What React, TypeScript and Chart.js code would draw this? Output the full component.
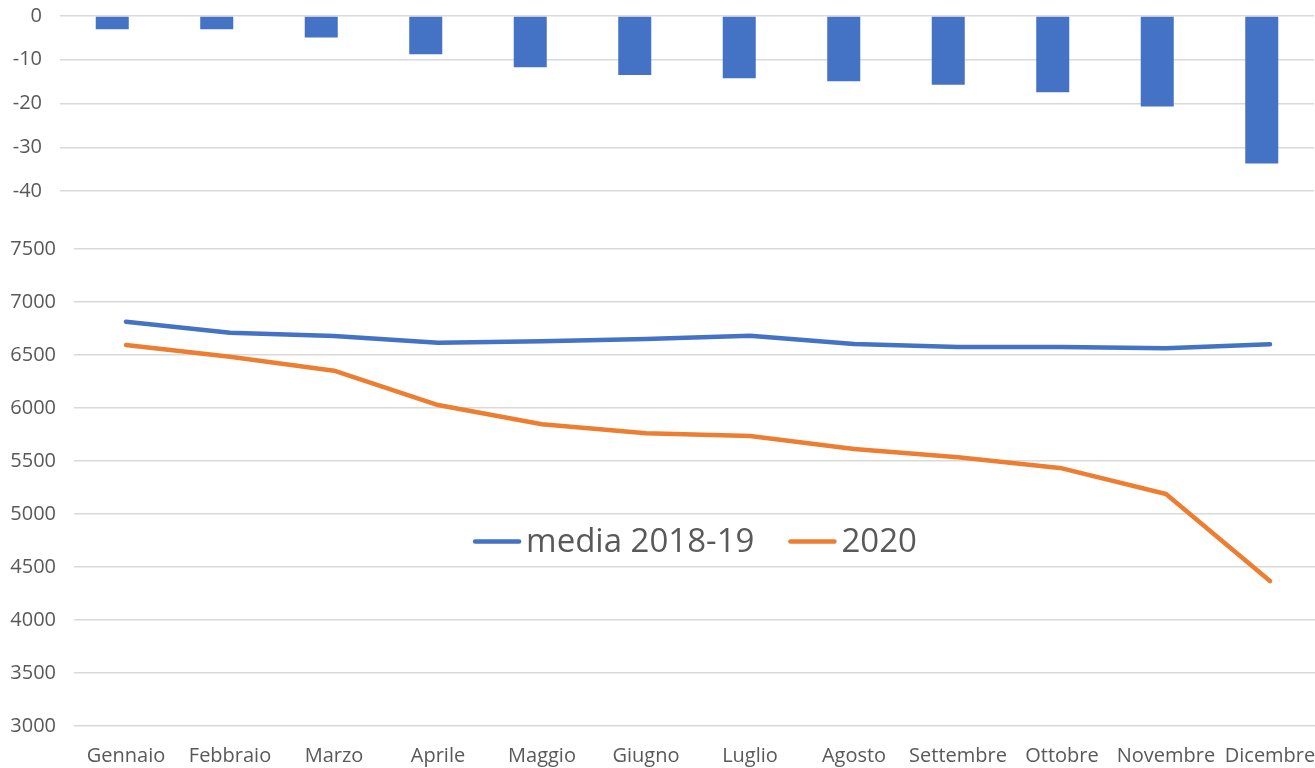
import React, { useEffect, useRef } from "react";
import { Chart, registerables } from "chart.js";

Chart.register(...registerables);

const months = ["Gennaio", "Febbraio", "Marzo", "Aprile", "Maggio", "Giugno", "Luglio", "Agosto", "Settembre", "Ottobre", "Novembre", "Dicembre"];
const variazione = [-3.0, -3.0, -4.9, -8.75, -11.7, -13.5, -14.2, -14.9, -15.7, -17.4, -20.7, -33.7];
const media201819 = [6814, 6710, 6679, 6616, 6629, 6651, 6682, 6604, 6575, 6575, 6563, 6601];
const values2020 = [6594, 6484, 6352, 6028, 5846, 5761, 5736, 5613, 5535, 5431, 5189, 4368];
const seriesNames = ["media 2018-19", "2020"];
const barAxisMin = -40;
const barAxisMax = 0;
const barAxisStep = 10;
const lineAxisMin = 3000;
const lineAxisMax = 7500;
const lineAxisStep = 500;

const BLUE = "#4472C4";
const ORANGE = "#ED7D31";
const GRID = "#d9d9d9";
const TEXT = "#595959";
const FONT = "'Open Sans', sans-serif";

const legendPlugin = {
  id: "innerLegend",
  afterDatasetsDraw(chart: any) {
    const ctx = chart.ctx;
    const area = chart.chartArea;
    const yScale = chart.scales.y;
    const y = yScale.getPixelForValue(4740);
    const fontSize = 33;
    ctx.save();
    ctx.font = `${fontSize}px ${FONT}`;
    const sample = 48;
    const gap = 5;
    const itemGap = 34;
    const widths = chart.data.datasets.map((d: any) => ctx.measureText(d.label).width);
    const total = widths.reduce((a: number, w: number) => a + sample + gap + w, 0) + itemGap * (widths.length - 1);
    let x = (area.left + area.right) / 2 - total / 2 - 3;
    chart.data.datasets.forEach((d: any, i: number) => {
      ctx.strokeStyle = d.borderColor;
      ctx.lineWidth = 4.5;
      ctx.lineCap = "round";
      ctx.beginPath();
      ctx.moveTo(x + 2, y);
      ctx.lineTo(x + sample - 2, y);
      ctx.stroke();
      ctx.fillStyle = TEXT;
      ctx.textBaseline = "middle";
      ctx.textAlign = "left";
      ctx.fillText(d.label, x + sample + gap, y + 1);
      x += sample + gap + widths[i] + itemGap;
    });
    ctx.restore();
  },
};

export default function App() {
  const topRef = useRef<HTMLCanvasElement>(null);
  const bottomRef = useRef<HTMLCanvasElement>(null);

  useEffect(() => {
    const tickFont = { family: FONT, size: 20 };
    const top = new Chart(topRef.current as HTMLCanvasElement, {
      type: "bar",
      data: {
        labels: months,
        datasets: [
          {
            label: "variazione %",
            data: variazione,
            backgroundColor: BLUE,
            borderWidth: 0,
            categoryPercentage: 1,
            barPercentage: 0.316,
          },
        ],
      },
      options: {
        animation: false,
        responsive: false,
        maintainAspectRatio: false,
        layout: { padding: 0 },
        plugins: { legend: { display: false }, tooltip: { enabled: false } },
        scales: {
          x: { display: false, grid: { display: false } },
          y: {
            min: barAxisMin,
            max: barAxisMax,
            ticks: { stepSize: barAxisStep, color: TEXT, font: tickFont, padding: 18 },
            grid: { color: GRID, lineWidth: 1.5, drawTicks: false },
            border: { display: false },
            afterFit: (s: any) => {
              s.width = 60;
            },
          },
        },
      },
    });

    const bottom = new Chart(bottomRef.current as HTMLCanvasElement, {
      type: "line",
      data: {
        labels: months,
        datasets: [
          {
            label: seriesNames[0],
            data: media201819,
            borderColor: BLUE,
            backgroundColor: BLUE,
            borderWidth: 4.5,
            pointRadius: 0,
            borderCapStyle: "round",
            borderJoinStyle: "round",
            tension: 0,
          },
          {
            label: seriesNames[1],
            data: values2020,
            borderColor: ORANGE,
            backgroundColor: ORANGE,
            borderWidth: 4.5,
            pointRadius: 0,
            borderCapStyle: "round",
            borderJoinStyle: "round",
            tension: 0,
          },
        ],
      },
      options: {
        animation: false,
        responsive: false,
        maintainAspectRatio: false,
        layout: { padding: { top: 49, bottom: 0, left: 0, right: 0 } },
        plugins: { legend: { display: false }, tooltip: { enabled: false } },
        scales: {
          x: {
            offset: true,
            grid: {
              display: true,
              drawOnChartArea: false,
              drawTicks: true,
              tickLength: 16,
              color: "rgba(0,0,0,0)",
              tickColor: "rgba(0,0,0,0)",
            },
            border: { display: false },
            ticks: { color: TEXT, font: tickFont, padding: 2, maxRotation: 0, autoSkip: false },
            afterFit: (s: any) => {
              s.height = 42;
            },
          },
          y: {
            min: lineAxisMin,
            max: lineAxisMax,
            ticks: {
              stepSize: lineAxisStep,
              color: TEXT,
              font: tickFont,
              padding: 18,
              callback: (v: any) => String(v),
            },
            grid: { color: GRID, lineWidth: 1.5, drawTicks: false },
            border: { display: false },
            afterFit: (s: any) => {
              s.width = 74;
            },
          },
        },
      },
      plugins: [legendPlugin],
    });

    return () => {
      top.destroy();
      bottom.destroy();
    };
  }, []);

  return (
    <div
      style={{
        position: "fixed",
        left: 0,
        top: 0,
        width: 1315,
        height: 768,
        overflow: "hidden",
        background: "#ffffff",
      }}
    >
      <canvas
        ref={topRef}
        width={1314}
        height={235}
        style={{ position: "absolute", left: 0, top: -14, width: 1314, height: 235 }}
      />
      <canvas
        ref={bottomRef}
        width={1322}
        height={568}
        style={{ position: "absolute", left: 0, top: 200, width: 1322, height: 568 }}
      />
    </div>
  );
}
